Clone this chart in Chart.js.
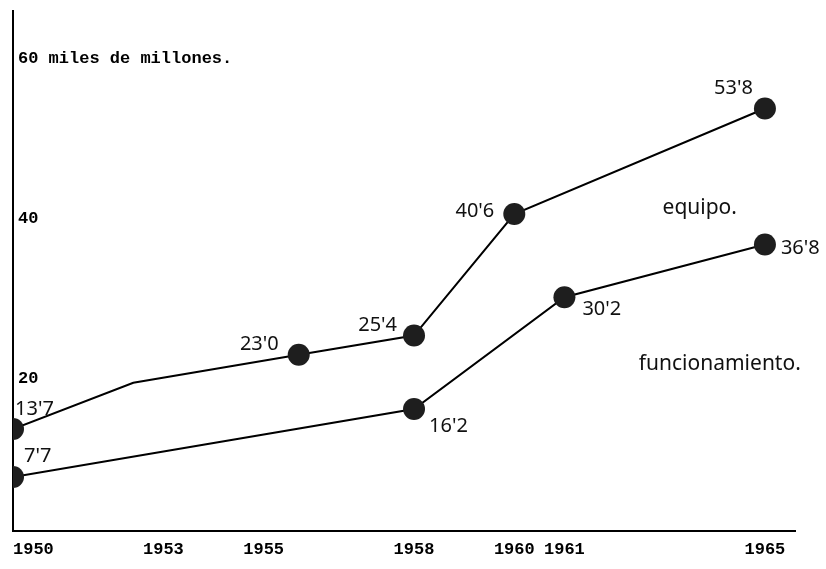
<!DOCTYPE html>
<html>
<head>
<meta charset="utf-8">
<script src="https://cdn.jsdelivr.net/npm/chart.js@4.4.1/dist/chart.umd.min.js"></script>
<style>
  html, body { margin: 0; padding: 0; background: #fff; }
  #wrap { width: 826px; height: 569px; position: relative; }
</style>
</head>
<body>
<div id="wrap"><canvas id="chart"></canvas></div>
<script>
// datos del gráfico
const yearTicks = [1950, 1953, 1955, 1958, 1960, 1961, 1965];
const valueTicks = [20, 40, 60];
const unitLabel = "miles de millones.";
const seriesNames = ["equipo.", "funcionamiento."];

const equipoYears = [1950, 1952.4, 1955.7, 1958, 1960, 1965];
const equipoValues = [13.7, 19.5, 23.0, 25.4, 40.6, 53.8];
const equipoMarked = [true, false, true, true, true, true]; // el quiebre de 1952 no lleva punto

const funcYears = [1950, 1958, 1961, 1965];
const funcValues = [7.7, 16.2, 30.2, 36.8];

// donde va cada rótulo escrito a mano, relativo al punto: [dx, dy, alineación]
const labelPlace = [
    [[2, -20, "left"], null, [-20, -10, "right"], [-17, -10, "right"], [-20, -3, "right"], [-12, -20, "right"]],
    [[11, -21, "left"], [15, 17, "left"], [18, 12, "left"], [16, 4, "left"]],
];
// nombre de cada serie, en coordenadas de los ejes
const namePlace = [[1963.7, 41.3], [1964.1, 21.9]];

const toPoints = (xs, ys) => xs.map((x, i) => ({ x: x, y: ys[i] }));

const handLabels = {
    id: "handLabels",
    afterDatasetsDraw(chart) {
        const ctx = chart.ctx;
        ctx.save();
        ctx.fillStyle = "#111";
        ctx.textBaseline = "middle";
        ctx.font = '20px "Noto Sans"';
        chart.data.datasets.forEach((ds, i) => {
            chart.getDatasetMeta(i).data.forEach((pt, j) => {
                const p = labelPlace[i][j];
                if (!p) return;
                ctx.textAlign = p[2];
                const txt = ds.data[j].y.toFixed(1).replace(".", "'");
                ctx.fillText(txt, pt.x + p[0], pt.y + p[1]);
            });
        });
        // nombres de las series
        ctx.font = '21px "Noto Sans"';
        ctx.textAlign = "center";
        const xs = chart.scales.x, ys = chart.scales.y;
        seriesNames.forEach((name, i) => {
            ctx.fillText(name, xs.getPixelForValue(namePlace[i][0]), ys.getPixelForValue(namePlace[i][1]));
        });
        ctx.restore();
    },
};

const lineStyle = {
    borderColor: "#000",
    borderWidth: 2,
    tension: 0,
    fill: false,
    pointBackgroundColor: "#1e1e1e",
    pointBorderWidth: 0,
};

const ctx = document.getElementById("chart").getContext("2d");
new Chart(ctx, {
    type: "line",
    data: {
        datasets: [
            {
                label: seriesNames[0],
                data: toPoints(equipoYears, equipoValues),
                pointRadius: equipoMarked.map(m => (m ? 11 : 0)),
                pointHoverRadius: equipoMarked.map(m => (m ? 11 : 0)),
                ...lineStyle,
            },
            {
                label: seriesNames[1],
                data: toPoints(funcYears, funcValues),
                pointRadius: 11,
                pointHoverRadius: 11,
                ...lineStyle,
            },
        ],
    },
    options: {
        responsive: true,
        maintainAspectRatio: false,
        animation: false,
        layout: { padding: { left: 3, top: 5, right: 31, bottom: 0 } },
        plugins: {
            legend: { display: false },
            tooltip: { enabled: false },
        },
        scales: {
            x: {
                type: "linear",
                min: 1950,
                max: 1965.6,
                afterBuildTicks: s => { s.ticks = yearTicks.map(v => ({ value: v })); },
                afterFit: s => { s.paddingLeft = 0; s.paddingRight = 0; },
                grid: { display: false, drawTicks: false },
                border: { display: true, color: "#000", width: 2 },
                ticks: {
                    autoSkip: false,
                    maxRotation: 0,
                    minRotation: 0,
                    padding: 9,
                    color: "#000",
                    font: { family: '"Liberation Mono"', size: 17, weight: "bold" },
                    // 1950 queda pegado al eje, así que se corre a la derecha
                    callback: v => (v === 1950 ? "    1950" : String(v)),
                },
            },
            y: {
                type: "linear",
                min: 1,
                max: 66,
                afterBuildTicks: s => { s.ticks = valueTicks.map(v => ({ value: v })); },
                afterFit: s => { s.paddingTop = 0; s.paddingBottom = 0; },
                grid: { display: false, drawTicks: false },
                border: { display: true, color: "#000", width: 2 },
                ticks: {
                    mirror: true,
                    padding: 5,
                    color: "#000",
                    font: { family: '"Liberation Mono"', size: 17, weight: "bold" },
                    callback: v => (v === 60 ? v + " " + unitLabel : String(v)),
                },
            },
        },
    },
    plugins: [handLabels],
});
</script>
</body>
</html>
